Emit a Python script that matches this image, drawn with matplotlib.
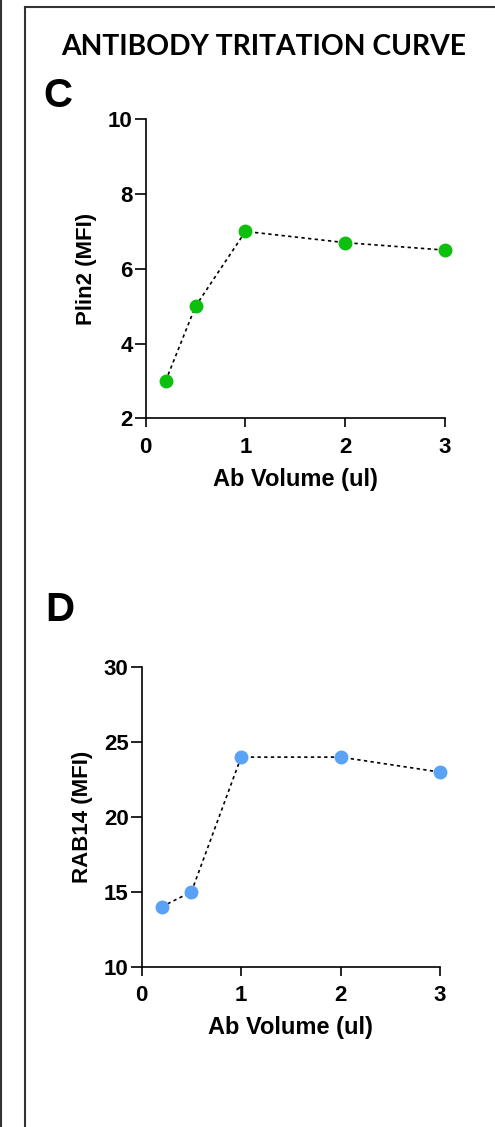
import numpy as np
import matplotlib
matplotlib.use('Agg')
import matplotlib.pyplot as plt
from matplotlib.lines import Line2D

# data
ab_volume = [0.2, 0.5, 1, 2, 3]
plin2_mfi = [3, 5, 7, 6.7, 6.5]
rab14_mfi = [14, 15, 24, 24, 23]

xticks = [0, 1, 2, 3]
plin2_ticks = [2, 4, 6, 8, 10]
rab14_ticks = [10, 15, 20, 25, 30]

W, H = 495, 1127
plt.rcParams['font.family'] = ['Liberation Sans', 'DejaVu Sans']
plt.rcParams['font.weight'] = 'bold'

fig = plt.figure(figsize=(W / 100, H / 100), dpi=100)


def px_axes(left, top, right, bottom):
    return fig.add_axes([left / W, 1 - bottom / H, (right - left) / W, (bottom - top) / H])


def style_axes(ax, yticks, ylabel):
    for s in ['top', 'right']:
        ax.spines[s].set_visible(False)
    for s in ['left', 'bottom']:
        ax.spines[s].set_linewidth(1.2)
    ax.set_xlim(0, 3)
    ax.set_ylim(yticks[0], yticks[-1])
    ax.set_xticks(xticks)
    ax.set_yticks(yticks)
    ax.tick_params(axis='x', direction='out', length=6.5, width=1.2, labelsize=16, pad=7)
    ax.tick_params(axis='y', direction='out', length=8, width=1.2, labelsize=16, pad=1.5)
    for lab in ax.get_xticklabels() + ax.get_yticklabels():
        lab.set_fontweight('bold')
    ax.set_xlabel('Ab Volume (ul)', fontsize=17, fontweight='bold', labelpad=7)
    ax.set_ylabel(ylabel, fontsize=16, fontweight='bold', labelpad=8)


# panel C
axC = px_axes(145.7, 119.3, 445, 418.3)
axC.plot(ab_volume, plin2_mfi, linestyle=(0, (2, 2)), color='black', lw=1.2,
         marker='o', markersize=9, markerfacecolor='#0DC00D', markeredgecolor='#0DC00D',
         clip_on=False, zorder=3)
style_axes(axC, plin2_ticks, 'Plin2 (MFI)')

# panel D
axD = px_axes(141.7, 667.3, 440, 966.7)
axD.plot(ab_volume, rab14_mfi, linestyle=(0, (2, 2)), color='black', lw=1.2,
         marker='o', markersize=9, markerfacecolor='#5AA2F5', markeredgecolor='#5AA2F5',
         clip_on=False, zorder=3)
style_axes(axD, rab14_ticks, 'RAB14 (MFI)')

# titles and panel letters
fig.text(263.5 / W, 1 - 55 / H, 'ANTIBODY TRITATION CURVE', family=['Lato', 'DejaVu Sans'],
         fontsize=20.3, fontweight='bold', ha='center', va='baseline')
fig.text(43 / W, 1 - 107 / H, 'C', fontsize=29, fontweight='bold', ha='left', va='baseline')
fig.text(45 / W, 1 - 621 / H, 'D', fontsize=29, fontweight='bold', ha='left', va='baseline')

# frame lines
fig.add_artist(Line2D([1 / W, 1 / W], [0, 1], color='#333333', lw=1.5))
fig.add_artist(Line2D([24.5 / W, 24.5 / W], [0, 1 - 7 / H], color='#333333', lw=1.5))
fig.add_artist(Line2D([24.5 / W, 1], [1 - 7 / H, 1 - 7 / H], color='#333333', lw=1.5))

fig.savefig('out.png', dpi=100)
